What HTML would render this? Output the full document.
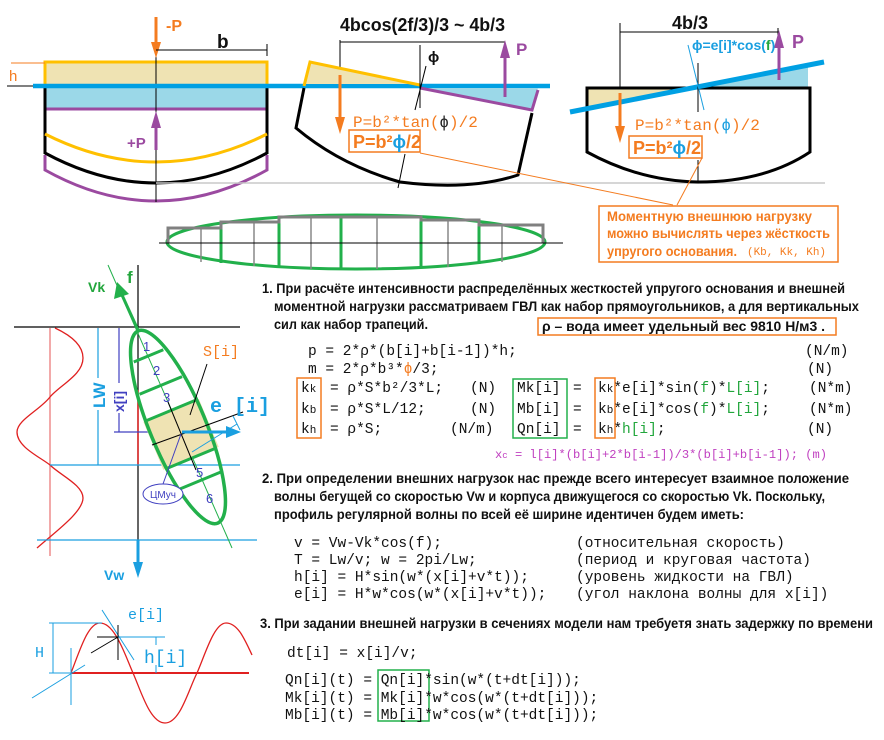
<!DOCTYPE html>
<html><head><meta charset="utf-8"><style>
html,body{margin:0;padding:0;background:#fff;}
svg{display:block;}
.t{font-family:"Liberation Sans","DejaVu Sans",sans-serif;font-weight:bold;font-size:14px;fill:#111;}
.m{font-family:"Liberation Mono","DejaVu Sans Mono",monospace;font-size:14.5px;fill:#111;}
.o{fill:#f47c20;}
.g{fill:#22a63c;}
.b{fill:#1a9fe0;}
.p{fill:#9b4aa0;}
</style></head><body>
<svg width="884" height="740" viewBox="0 0 884 740" xmlns="http://www.w3.org/2000/svg">
<defs>
<marker id="ao" markerWidth="6" markerHeight="8" refX="5" refY="4" orient="auto" markerUnits="userSpaceOnUse"><path d="M0,0 L6,4 L0,8 Z" fill="#f47c20"/></marker>
</defs>

<!-- Panel 1 -->
<rect x="45" y="62" width="222" height="24" fill="#efe3b3" stroke="#ffc000" stroke-width="3"/>
<rect x="45" y="88" width="222" height="21" fill="#9bd8e8"/>
<line x1="45" y1="109" x2="267" y2="109" stroke="#9b4aa0" stroke-width="3"/>
<line x1="11" y1="63" x2="45" y2="63" stroke="#f47c20" stroke-width="1"/>
<text x="9" y="81" class="t o" style="font-weight:normal;font-size:15px">h</text>
<line x1="7" y1="86" x2="33" y2="86" stroke="#000" stroke-width="1"/>
<line x1="45" y1="86" x2="45" y2="154" stroke="#000" stroke-width="3"/>
<line x1="267" y1="86" x2="267" y2="154" stroke="#000" stroke-width="3"/>
<path d="M45,134 Q156,190 267,134" fill="none" stroke="#ffc000" stroke-width="3"/>
<path d="M45,153 Q156,213 267,153" fill="none" stroke="#000" stroke-width="3"/>
<path d="M45,155 L45,170 Q156,232 267,170 L267,155" fill="none" stroke="#9b4aa0" stroke-width="3"/>
<line x1="156" y1="50" x2="156" y2="202" stroke="#000" stroke-width="1"/>
<line x1="156" y1="17" x2="156" y2="50" stroke="#f47c20" stroke-width="3"/>
<path d="M151,42 L156,58 L161,42 Z" fill="#f47c20"/>
<text x="166" y="31" class="t o" style="font-size:16px">-P</text>
<line x1="156" y1="50" x2="267" y2="50" stroke="#000" stroke-width="1"/>
<line x1="267" y1="44" x2="267" y2="56" stroke="#000" stroke-width="1"/>
<text x="217" y="48" class="t" style="font-size:19px">b</text>
<line x1="156" y1="150" x2="156" y2="122" stroke="#9b4aa0" stroke-width="3"/>
<path d="M151,128 L156,111 L161,128 Z" fill="#9b4aa0"/>
<text x="127" y="148" class="t p" style="font-size:15px">+P</text>
<line x1="156" y1="183" x2="825" y2="183" stroke="#c8c8c8" stroke-width="1.5"/>
<line x1="33" y1="86" x2="550" y2="86" stroke="#00a0e3" stroke-width="4.5"/>

<!-- Panel 2 -->
<text x="340" y="31" class="t" style="font-size:18px" textLength="165" lengthAdjust="spacingAndGlyphs">4bcos(2f/3)/3 ~ 4b/3</text>
<line x1="340" y1="42" x2="505" y2="42" stroke="#000" stroke-width="1"/>
<line x1="340" y1="40" x2="340" y2="75" stroke="#000" stroke-width="1"/>
<polygon points="310,62 304,84 420,84" fill="#efe3b3"/>
<path d="M304,86 L310,62 L420,85" fill="none" stroke="#ffc000" stroke-width="3"/>
<polygon points="420,88 538,88 532,110" fill="#9bd8e8"/>
<path d="M420,88 L532,110 L538,90" fill="none" stroke="#9b4aa0" stroke-width="3"/>
<path d="M304,88 L296,128 Q340,165 400,182 Q470,191 518,175 L532,113" fill="none" stroke="#000" stroke-width="3"/>
<line x1="420" y1="45" x2="420" y2="108" stroke="#000" stroke-width="1"/>
<line x1="426" y1="66" x2="415" y2="110" stroke="#000" stroke-width="1"/>
<text x="428" y="62" class="t" style="font-size:15px">ϕ</text>
<line x1="340" y1="75" x2="340" y2="120" stroke="#f47c20" stroke-width="3"/>
<path d="M335,117 L340,134 L345,117 Z" fill="#f47c20"/>
<line x1="505" y1="97" x2="505" y2="55" stroke="#9b4aa0" stroke-width="3"/>
<path d="M500,58 L505,40 L510,58 Z" fill="#9b4aa0"/>
<text x="516" y="55" class="t p" style="font-size:17px">P</text>
<text x="353" y="127" class="m o" style="font-size:16px">P=b²*tan(<tspan fill="#222">ϕ</tspan>)/2</text>
<rect x="349" y="130" width="71" height="22" fill="#fff" stroke="#f47c20" stroke-width="1.5"/>
<text x="353" y="148" class="t o" style="font-size:18px">P=b²<tspan class="b">ϕ</tspan>/2</text>
<line x1="405" y1="154" x2="398" y2="188" stroke="#000" stroke-width="1"/>
<line x1="420" y1="153" x2="673" y2="205" stroke="#f47c20" stroke-width="1"/>

<!-- Panel 3 -->
<text x="672" y="29" class="t" style="font-size:18px">4b/3</text>
<line x1="620" y1="32" x2="778" y2="32" stroke="#000" stroke-width="1"/>
<line x1="620" y1="23" x2="620" y2="95" stroke="#000" stroke-width="1"/>
<line x1="778" y1="28" x2="778" y2="36" stroke="#000" stroke-width="1"/>
<polygon points="588,89 692,89 588,108" fill="#efe3b3"/>
<polygon points="692,88 808,88 808,65" fill="#9bd8e8"/>
<path d="M587,88 L587,152 Q640,181 698,182 Q765,182 810,152 L810,88 Z" fill="none" stroke="#000" stroke-width="3"/>
<line x1="570" y1="112" x2="824" y2="62" stroke="#00a0e3" stroke-width="5"/>
<line x1="698" y1="63" x2="698" y2="112" stroke="#000" stroke-width="1"/>
<line x1="698" y1="160" x2="698" y2="183" stroke="#000" stroke-width="1"/>
<line x1="688" y1="45" x2="704" y2="110" stroke="#1a9fe0" stroke-width="1"/>
<line x1="620" y1="93" x2="620" y2="128" stroke="#f47c20" stroke-width="3"/>
<path d="M615,126 L620,143 L625,126 Z" fill="#f47c20"/>
<line x1="779" y1="80" x2="779" y2="45" stroke="#9b4aa0" stroke-width="3"/>
<path d="M774,48 L779,30 L784,48 Z" fill="#9b4aa0"/>
<text x="792" y="48" class="t p" style="font-size:18px">P</text>
<text x="692" y="50" class="t b" style="font-size:14px">ϕ=e[i]*cos(<tspan class="g">f</tspan>)</text>
<text x="635" y="130" class="m o" style="font-size:16px">P=b²*tan(<tspan class="b">ϕ</tspan>)/2</text>
<rect x="629" y="136" width="73" height="22" fill="#fff" stroke="#f47c20" stroke-width="1.5"/>
<text x="633" y="154" class="t o" style="font-size:18px">P=b²<tspan class="b">ϕ</tspan>/2</text>
<line x1="702" y1="158" x2="677" y2="205" stroke="#f47c20" stroke-width="1"/>
<rect x="599" y="206" width="239" height="56" fill="#fff" stroke="#f47c20" stroke-width="1.5"/>
<text x="607" y="221" class="t o" style="font-size:14px" textLength="205" lengthAdjust="spacingAndGlyphs">Моментную внешнюю нагрузку</text>
<text x="607" y="238" class="t o" style="font-size:14px" textLength="223" lengthAdjust="spacingAndGlyphs">можно вычислять через жёсткость</text>
<text x="607" y="256" class="t o" style="font-size:14px" textLength="130" lengthAdjust="spacingAndGlyphs">упругого основания.</text>
<text x="747" y="255" class="m o" style="font-size:11px" textLength="79" lengthAdjust="spacingAndGlyphs">(Kb, Kk, Kh)</text>

<!-- Middle ellipse -->
<ellipse cx="356" cy="242" rx="189" ry="27" fill="none" stroke="#22b04b" stroke-width="3"/>
<g stroke="#888" stroke-width="1.5">
<line x1="201" y1="228" x2="201" y2="262"/><line x1="254" y1="222" x2="254" y2="266"/>
<line x1="311" y1="217" x2="311" y2="269"/><line x1="377" y1="217" x2="377" y2="269"/>
<line x1="448" y1="220" x2="448" y2="267"/><line x1="502" y1="225" x2="502" y2="262"/>
</g>
<g stroke="#22b04b" stroke-width="3">
<line x1="221" y1="223" x2="221" y2="263"/><line x1="279" y1="217" x2="279" y2="268"/>
<line x1="341" y1="215" x2="341" y2="270"/><line x1="421" y1="217" x2="421" y2="268"/>
<line x1="479" y1="222" x2="479" y2="264"/>
</g>
<path d="M168,243 L168,228 L221,228 L221,222 L279,222 L279,217 L421,217 L421,220 L479,220 L479,225 L543,225 L543,243" fill="none" stroke="#808080" stroke-width="3"/>
<line x1="159" y1="243" x2="563" y2="243" stroke="#000" stroke-width="1"/>

<!-- Left wave diagram -->
<line x1="138" y1="265" x2="138" y2="560" stroke="#000" stroke-width="1.2"/>
<line x1="14" y1="327" x2="240" y2="327" stroke="#000" stroke-width="1.2"/>
<line x1="50" y1="328" x2="50" y2="556" stroke="#e87070" stroke-width="1.2"/>
<path d="M55,328 C70,335 83,345 83,358 C83,375 60,385 50,397 C40,410 17,420 17,432 C17,447 40,457 50,465 C60,475 83,485 83,498 C83,512 55,532 37,548" fill="none" stroke="#e02020" stroke-width="1.3"/>
<line x1="138" y1="390" x2="138" y2="465" stroke="#e02020" stroke-width="1.5"/>
<line x1="50" y1="465" x2="240" y2="465" stroke="#1a9fe0" stroke-width="1.2"/>
<line x1="37" y1="540" x2="257" y2="540" stroke="#1a9fe0" stroke-width="1.2"/>
<line x1="98" y1="328" x2="98" y2="465" stroke="#1a9fe0" stroke-width="1.2"/>
<rect x="90" y="378" width="16" height="32" fill="#fff"/>
<text transform="translate(105,408) rotate(-90)" class="t b" style="font-size:17px">LW</text>
<line x1="119" y1="328" x2="119" y2="432" stroke="#4040c0" stroke-width="1.2"/>
<line x1="114" y1="432" x2="182" y2="432" stroke="#4040c0" stroke-width="1.2"/>
<rect x="112" y="383" width="15" height="30" fill="#fff"/>
<text transform="translate(124,412) rotate(-90)" class="t" style="font-size:14px;fill:#4040c0">x[i]</text>
<line x1="108" y1="265" x2="232" y2="548" stroke="#22b04b" stroke-width="1"/>
<g transform="translate(178,427) rotate(-22.5)">
<rect x="-30" y="-18" width="60" height="52" fill="#efe3b3"/>
<ellipse cx="0" cy="0" rx="28" ry="104" fill="none" stroke="#22b04b" stroke-width="3.5"/>
<rect x="-40" y="-20" width="80" height="2" fill="none"/>
<g stroke="#22b04b" stroke-width="3">
<line x1="-16" y1="-77" x2="16" y2="-77"/><line x1="-23" y1="-45" x2="23" y2="-45"/>
<line x1="-28" y1="-18" x2="28" y2="-18"/><line x1="-27" y1="34" x2="27" y2="34"/>
<line x1="-23" y1="58" x2="23" y2="58"/>
</g>
</g>
<rect x="160" y="418" width="40" height="4" fill="none"/>
<g fill="#4040c0" font-family="Liberation Sans, sans-serif" font-size="13">
<text x="143" y="351">1</text><text x="153" y="375">2</text><text x="163" y="402">3</text>
<text x="196" y="477">5</text><text x="206" y="503">6</text>
</g>
<line x1="152" y1="445" x2="243" y2="412" stroke="#000" stroke-width="1"/>
<line x1="168" y1="402" x2="196" y2="470" stroke="#000" stroke-width="1"/>
<line x1="190" y1="415" x2="207" y2="364" stroke="#000" stroke-width="1"/>
<text x="203" y="356" class="m o" style="font-size:15px">S[i]</text>
<line x1="182" y1="432" x2="230" y2="432" stroke="#1a9fe0" stroke-width="3"/>
<path d="M226,426 L241,432 L226,438 Z" fill="#1a9fe0"/>
<line x1="192" y1="452" x2="237" y2="424" stroke="#1a9fe0" stroke-width="1"/>
<line x1="233" y1="416" x2="240" y2="430" stroke="#1a9fe0" stroke-width="1"/>
<text x="210" y="412" class="t b" style="font-size:20px;font-family:'Liberation Mono',monospace">e [i]</text>
<line x1="163" y1="484" x2="181" y2="434" stroke="#4040c0" stroke-width="1"/>
<ellipse cx="163" cy="494" rx="20" ry="10" fill="#fff" stroke="#4040c0" stroke-width="1"/>
<text x="163" y="498" text-anchor="middle" font-family="Liberation Sans, sans-serif" font-size="10" fill="#4040c0">ЦМуч</text>
<line x1="138" y1="330" x2="122" y2="295" stroke="#22b04b" stroke-width="3"/>
<path d="M114,299 L117,282 L129,294 Z" fill="#22b04b"/>
<text x="88" y="292" class="t g" style="font-size:14px">Vk</text>
<text x="127" y="283" class="t g" style="font-size:17px">f</text>
<line x1="138" y1="540" x2="138" y2="565" stroke="#1a9fe0" stroke-width="3"/>
<path d="M133,562 L138,578 L143,562 Z" fill="#1a9fe0"/>
<text x="104" y="580" class="t b" style="font-size:14px">Vw</text>

<!-- Bottom-left sine -->
<line x1="71" y1="673" x2="249" y2="673" stroke="#e02020" stroke-width="2"/>
<path d="M71,673 C80,650 88,623 100,623 C115,623 125,655 133,673 C141,691 150,723 165,723 C180,723 188,691 197,673 C205,655 214,623 226,623 C238,623 245,640 252,655" fill="none" stroke="#e02020" stroke-width="1.3"/>
<line x1="53" y1="623" x2="53" y2="673" stroke="#1a9fe0" stroke-width="1"/>
<line x1="49" y1="623" x2="102" y2="623" stroke="#1a9fe0" stroke-width="1"/>
<line x1="49" y1="673" x2="71" y2="673" stroke="#1a9fe0" stroke-width="1"/>
<text x="35" y="657" class="m b" style="font-size:15px">H</text>
<line x1="32" y1="698" x2="85" y2="665" stroke="#1a9fe0" stroke-width="1"/>
<line x1="71" y1="648" x2="71" y2="705" stroke="#1a9fe0" stroke-width="1"/>
<line x1="102" y1="610" x2="134" y2="660" stroke="#1a9fe0" stroke-width="1"/>
<line x1="118" y1="637" x2="165" y2="637" stroke="#1a9fe0" stroke-width="1"/>
<line x1="156" y1="637" x2="156" y2="673" stroke="#1a9fe0" stroke-width="1"/>
<line x1="118" y1="625" x2="118" y2="660" stroke="#000" stroke-width="1"/>
<line x1="97" y1="637" x2="118" y2="637" stroke="#000" stroke-width="1"/>
<line x1="91" y1="653" x2="118" y2="637" stroke="#000" stroke-width="1"/>
<text x="128" y="619" class="m b" style="font-size:15px">e[i]</text>
<rect x="144" y="645" width="38" height="20" fill="#fff"/>
<text x="144" y="663" class="m b" style="font-size:18px">h[i]</text>

<!-- Section 1 -->
<text x="262" y="293" class="t" textLength="583" lengthAdjust="spacingAndGlyphs">1. При расчёте интенсивности распределённых жесткостей упругого основания и внешней</text>
<text x="274" y="311" class="t" textLength="585" lengthAdjust="spacingAndGlyphs">моментной нагрузки рассматриваем ГВЛ как набор прямоугольников, а для вертикальных</text>
<text x="274" y="329" class="t" textLength="154" lengthAdjust="spacingAndGlyphs">сил как набор трапеций.</text>
<rect x="538" y="318" width="298" height="17" fill="none" stroke="#f47c20" stroke-width="1.5"/>
<text x="542" y="331" class="t" textLength="283" lengthAdjust="spacingAndGlyphs">ρ  –  вода имеет удельный вес 9810 Н/м3 .</text>

<text x="308" y="355" class="m">p = 2*ρ*(b[i]+b[i-1])*h;</text>
<text x="805" y="355" class="m">(N/m)</text>
<text x="308" y="373" class="m">m = 2*ρ*b³*<tspan class="o">ϕ</tspan>/3;</text>
<text x="807" y="373" class="m">(N)</text>

<rect x="297" y="378" width="24" height="60" fill="none" stroke="#f47c20" stroke-width="1.5"/>
<rect x="513" y="379" width="54" height="59" fill="none" stroke="#22b04b" stroke-width="1.5"/>
<rect x="595" y="378" width="20" height="60" fill="none" stroke="#f47c20" stroke-width="1.5"/>

<text x="301" y="392" class="m">k<tspan font-size="11">k</tspan></text>
<text x="330" y="392" class="m">= ρ*S*b²/3*L;</text>
<text x="470" y="392" class="m">(N)</text>
<text x="517" y="392" class="m">Mk[i]</text>
<text x="573" y="392" class="m">=</text>
<text x="598" y="392" class="m">k<tspan font-size="11">k</tspan>*e[i]*sin(<tspan class="g">f</tspan>)*<tspan class="g">L[i]</tspan>;</text>
<text x="809" y="392" class="m">(N*m)</text>

<text x="301" y="413" class="m">k<tspan font-size="11">b</tspan></text>
<text x="330" y="413" class="m">= ρ*S*L/12;</text>
<text x="470" y="413" class="m">(N)</text>
<text x="517" y="413" class="m">Mb[i]</text>
<text x="573" y="413" class="m">=</text>
<text x="598" y="413" class="m">k<tspan font-size="11">b</tspan>*e[i]*cos(<tspan class="g">f</tspan>)*<tspan class="g">L[i]</tspan>;</text>
<text x="809" y="413" class="m">(N*m)</text>

<text x="301" y="433" class="m">k<tspan font-size="11">h</tspan></text>
<text x="330" y="433" class="m">= ρ*S;</text>
<text x="450" y="433" class="m">(N/m)</text>
<text x="517" y="433" class="m">Qn[i]</text>
<text x="573" y="433" class="m">=</text>
<text x="598" y="433" class="m">k<tspan font-size="11">h</tspan>*<tspan class="g">h[i]</tspan>;</text>
<text x="807" y="433" class="m">(N)</text>

<text x="495" y="458" class="m" style="font-size:12px;fill:#c040c0" textLength="332" lengthAdjust="spacingAndGlyphs">x<tspan font-size="9">c</tspan> = l[i]*(b[i]+2*b[i-1])/3*(b[i]+b[i-1]);   (m)</text>

<!-- Section 2 -->
<text x="262" y="483" class="t" textLength="587" lengthAdjust="spacingAndGlyphs">2. При определении внешних нагрузок нас прежде всего интересует взаимное положение</text>
<text x="274" y="501" class="t" textLength="551" lengthAdjust="spacingAndGlyphs">волны бегущей со скоростью Vw и корпуса движущегося со скоростью Vk. Поскольку,</text>
<text x="274" y="519" class="t" textLength="470" lengthAdjust="spacingAndGlyphs">профиль регулярной волны по всей её ширине идентичен будем иметь:</text>

<text x="294" y="547" class="m">v = Vw-Vk*cos(f);</text>
<text x="576" y="547" class="m">(относительная скорость)</text>
<text x="294" y="564" class="m">T = Lw/v;   w = 2pi/Lw;</text>
<text x="576" y="564" class="m">(период и круговая частота)</text>
<text x="294" y="581" class="m">h[i] = H*sin(w*(x[i]+v*t));</text>
<text x="576" y="581" class="m">(уровень жидкости на ГВЛ)</text>
<text x="294" y="598" class="m">e[i] = H*w*cos(w*(x[i]+v*t));</text>
<text x="576" y="598" class="m">(угол наклона волны для x[i])</text>

<!-- Section 3 -->
<text x="260" y="628" class="t" textLength="613" lengthAdjust="spacingAndGlyphs">3. При задании внешней нагрузки в сечениях модели нам требуетя знать задержку по времени</text>
<text x="287" y="657" class="m">dt[i] = x[i]/v;</text>
<rect x="378" y="670" width="51" height="51" fill="none" stroke="#22b04b" stroke-width="1.5"/>
<text x="285" y="684" class="m">Qn[i](t) = Qn[i]*sin(w*(t+dt[i]));</text>
<text x="285" y="702" class="m">Mk[i](t) = Mk[i]*w*cos(w*(t+dt[i]));</text>
<text x="285" y="719" class="m">Mb[i](t) = Mb[i]*w*cos(w*(t+dt[i]));</text>
</svg>
</body></html>
